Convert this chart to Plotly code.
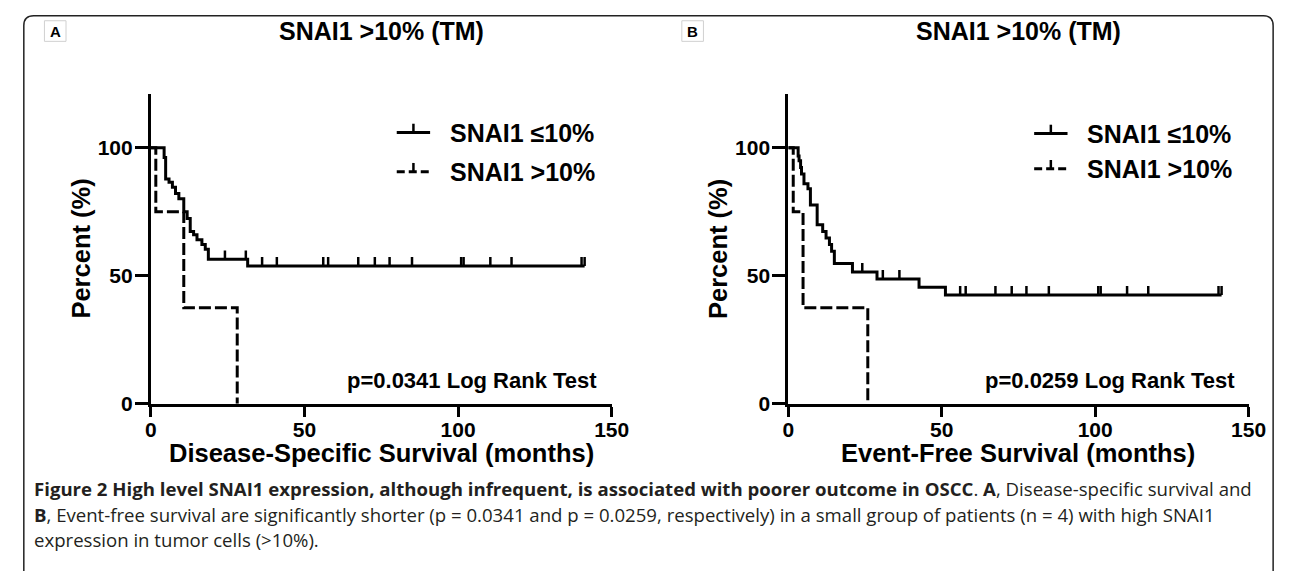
import plotly.graph_objects as go
import numpy as np

W, H = 1290, 571

# ---------------- data ----------------
# Panel A: Disease-specific survival
a_low_t = [0, 4.3, 4.8, 5.9, 7.0, 8.0, 9.1, 10.7, 11.8, 12.8, 13.9, 15.0, 16.6, 17.7, 18.7, 31.5, 141.2]
a_low_s = [100, 96.2, 87.8, 86.5, 84.6, 82.1, 80.1, 75.0, 72.4, 67.3, 66.0, 64.1, 62.2, 60.3, 56.4, 53.8, 53.8]
a_low_cens = [24.1, 30.9, 36.2, 41.0, 56.1, 57.7, 67.5, 72.9, 77.7, 85.0, 101.0, 101.8, 110.5, 117.4, 140.2, 141.2]
a_high_t = [0, 1.6, 10.7, 28.1]
a_high_s = [100, 75.0, 37.5, 0]

# Panel B: Event-free survival
b_low_t = [0, 3.2, 3.5, 4.0, 4.3, 5.1, 6.4, 7.2, 9.4, 11.2, 12.3, 13.4, 14.1, 15.0, 20.9, 28.9, 42.6, 51.2, 141.2]
b_low_s = [100, 96.8, 94.9, 92.3, 89.7, 85.9, 84.0, 77.6, 69.9, 67.3, 64.7, 62.2, 59.6, 54.8, 51.5, 48.7, 45.5, 42.5, 42.5]
b_low_cens = [24.1, 30.8, 36.2, 56.0, 57.8, 67.5, 72.8, 77.6, 84.9, 101.0, 101.8, 110.4, 117.3, 140.2, 141.2]
b_high_t = [0, 1.6, 4.8, 25.9]
b_high_s = [100, 75.0, 37.5, 0]

x_ticks = [0, 50, 100, 150]
y_ticks = [0, 50, 100]
panel_titles = ["SNAI1 >10% (TM)", "SNAI1 >10% (TM)"]
x_titles = ["Disease-Specific Survival (months)", "Event-Free Survival (months)"]
y_title = "Percent (%)"
legend_labels = ["SNAI1 \u226410%", "SNAI1 >10%"]
p_texts = ["p=0.0341 Log Rank Test", "p=0.0259 Log Rank Test"]
caption_lines = [
    "<b>Figure 2 High level SNAI1 expression, although infrequent, is associated with poorer outcome in OSCC</b>. <b>A</b>, Disease-specific survival and",
    "<b>B</b>, Event-free survival are significantly shorter (p = 0.0341 and p = 0.0259, respectively) in a small group of patients (n = 4) with high SNAI1",
    "expression in tumor cells (>10%).",
]

# ---------------- layout helpers ----------------
def fx(x):
    return x / W

def fy(y):
    return 1 - y / H

Y0_PX, Y100_PX = 403.5, 142.5
YMAX = 121
unit = (Y0_PX - Y100_PX) / 100.0
y_dom = [fy(Y0_PX), fy(Y0_PX - YMAX * unit)]
x_doms = [[fx(139.5), fx(609)], [fx(789), fx(1258)]]

FONT = "Liberation Sans, Arial, sans-serif"
CAP_FONT = "Open Sans, sans-serif"
fig = go.Figure()

def censor_xy(t, s, cens, h=3.5):
    t = np.asarray(t, float)
    xs, ys = [], []
    for c in cens:
        i = int(np.searchsorted(t, c, side="right") - 1)
        v = s[i]
        xs += [c, c, None]
        ys += [v, v + h, None]
    return xs, ys

panels = [
    (a_low_t, a_low_s, a_low_cens, a_high_t, a_high_s),
    (b_low_t, b_low_s, b_low_cens, b_high_t, b_high_s),
]
for k, (lt, ls, lc, ht, hs) in enumerate(panels):
    xa = "x" if k == 0 else "x2"
    ya = "y" if k == 0 else "y2"
    fig.add_trace(go.Scatter(x=lt, y=ls, mode="lines", line_shape="hv",
                             line=dict(color="black", width=3), xaxis=xa, yaxis=ya,
                             showlegend=False, hoverinfo="skip"))
    cx, cy = censor_xy(lt, ls, lc)
    fig.add_trace(go.Scatter(x=cx, y=cy, mode="lines", line=dict(color="black", width=2.5),
                             xaxis=xa, yaxis=ya, showlegend=False, hoverinfo="skip"))
    fig.add_trace(go.Scatter(x=ht, y=hs, mode="lines", line_shape="hv",
                             line=dict(color="black", width=3, dash="12px,4px"),
                             xaxis=xa, yaxis=ya, showlegend=False, hoverinfo="skip"))

axis_common = dict(showline=True, linewidth=3, linecolor="black", ticks="outside",
                   tickwidth=3, tickcolor="black", showgrid=False, zeroline=False,
                   tickfont=dict(family=FONT, size=21, color="black", weight="bold"),
                   fixedrange=True)
xax = dict(range=[0, 150], tickvals=x_ticks, ticklen=10, ticklabelstandoff=-5, **axis_common)
yax = dict(domain=y_dom, range=[0, YMAX], tickvals=y_ticks, ticklen=13, ticklabelstandoff=-2, **axis_common)
fig.update_layout(
    xaxis=dict(domain=x_doms[0], anchor="y", **xax),
    yaxis=dict(anchor="x", **yax),
    xaxis2=dict(domain=x_doms[1], anchor="y2", **xax),
    yaxis2=dict(anchor="x2", **yax),
)

shapes = []
annotations = []

def ann(text, x, y, size, family=FONT, xanchor="center", yanchor="middle", angle=0, color="black"):
    annotations.append(dict(text=text, x=x, y=y, xref="paper", yref="paper", showarrow=False,
                            xanchor=xanchor, yanchor=yanchor, textangle=angle,
                            font=dict(family=family, size=size, color=color)))

# outer frame with rounded top corners
r = 10
L, R, T, B = 10, 1283, 8, 600
path = (f"M {fx(L)},{fy(B)} L {fx(L)},{fy(T + r)} Q {fx(L)},{fy(T)} {fx(L + r)},{fy(T)} "
        f"L {fx(R - r)},{fy(T)} Q {fx(R)},{fy(T)} {fx(R)},{fy(T + r)} L {fx(R)},{fy(B)}")
shapes.append(dict(type="path", xref="paper", yref="paper", path=path,
                   line=dict(color="#222222", width=1.5)))

panel_offsets = [0, 649.5]
letters = ["A", "B"]
leg_rows_y = [[127, 167], [128, 164]]
for k in range(2):
    off = panel_offsets[k]
    # panel letter box
    bx0, bx1, by0, by1 = 31 + off, 53 + off, 13, 34
    shapes.append(dict(type="rect", xref="paper", yref="paper", x0=fx(bx0), x1=fx(bx1),
                       y0=fy(by1), y1=fy(by0), line=dict(color="#d0d0d0", width=1),
                       fillcolor="white"))
    ann(f"<b>{letters[k]}</b>", fx((bx0 + bx1) / 2), fy((by0 + by1) / 2), 15)
    cx = (x_doms[k][0] + x_doms[k][1]) / 2
    ann(f"<b>{panel_titles[k]}</b>", cx, fy(23), 25)
    ann(f"<b>{x_titles[k]}</b>", cx, fy(454), 25.5)
    ann(f"<b>{y_title}</b>", fx(68 + off), (y_dom[0] + y_dom[1]) / 2, 25.5, angle=-90)
    ann(f"<b>{p_texts[k]}</b>", fx(467 + off), fy(380), 22)
    # legend
    for j in range(2):
        yy = leg_rows_y[k][j]
        lx0, lx1 = 390 + off, 424 + off
        shapes.append(dict(type="line", xref="paper", yref="paper", x0=fx(lx0), x1=fx(lx1),
                           y0=fy(yy), y1=fy(yy),
                           line=dict(color="black", width=3, dash="solid" if j == 0 else "8px,4px")))
        mid = (lx0 + lx1) / 2
        shapes.append(dict(type="line", xref="paper", yref="paper", x0=fx(mid), x1=fx(mid),
                           y0=fy(yy), y1=fy(yy - 9), line=dict(color="black", width=2.5)))
        ann(f"<b>{legend_labels[j]}</b>", fx(442 + off), fy(yy), 25, xanchor="left")

cap_y = [490, 516, 542]
for line, yy in zip(caption_lines, cap_y):
    ann(line, fx(18), fy(yy), 18.6, family=CAP_FONT, xanchor="left", color="#231f20")

fig.update_layout(width=W, height=H, margin=dict(l=0, r=0, t=0, b=0, pad=0),
                  paper_bgcolor="white", plot_bgcolor="white",
                  shapes=shapes, annotations=annotations, showlegend=False)

fig.write_html("out.html")
